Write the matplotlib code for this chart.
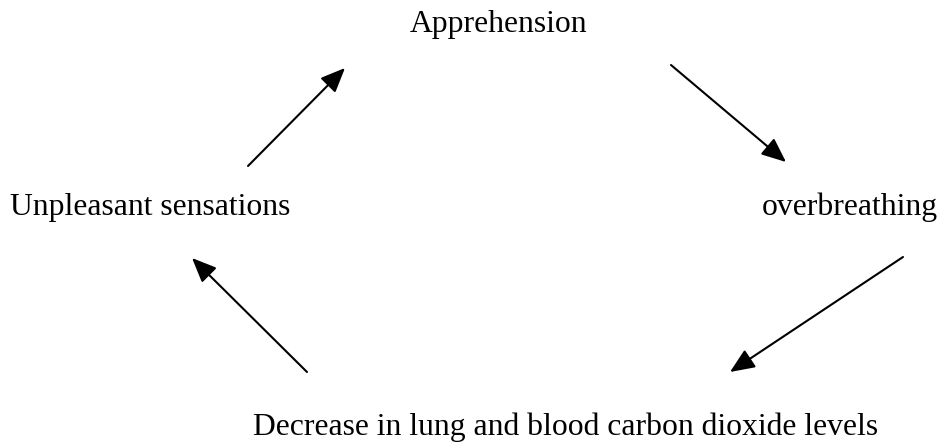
import matplotlib
matplotlib.use('Agg')
import matplotlib.pyplot as plt

# labels of the cycle and where they sit (pixel coords, baseline)
labels = ["Apprehension", "overbreathing",
          "Decrease in lung and blood carbon dioxide levels",
          "Unpleasant sensations"]
label_x = [410, 938, 253, 10]
label_y = [32, 215, 435, 215]
label_ha = ["left", "right", "left", "left"]

# arrows: start and tip
arrow_start = [(671, 65), (903, 257), (307, 372), (248, 166)]
arrow_end = [(786, 162), (730, 372), (192, 258), (345, 68)]


def main():
    fig = plt.figure(figsize=(9.44, 4.44), dpi=100)
    ax = fig.add_axes([0, 0, 1, 1])
    ax.set_xlim(0, 944)
    ax.set_ylim(444, 0)
    ax.axis('off')

    for text, x, y, ha in zip(labels, label_x, label_y, label_ha):
        ax.text(x, y, text, ha=ha, va='baseline', fontsize=22.8,
                family='Liberation Serif', color='black')

    for s, e in zip(arrow_start, arrow_end):
        ax.annotate('', xy=e, xytext=s,
                    arrowprops=dict(arrowstyle='-|>,head_length=0.75,head_width=0.32',
                                    mutation_scale=20, lw=1.5, color='black',
                                    shrinkA=0, shrinkB=0))

    fig.savefig('out.png', dpi=100)


if __name__ == '__main__':
    main()
